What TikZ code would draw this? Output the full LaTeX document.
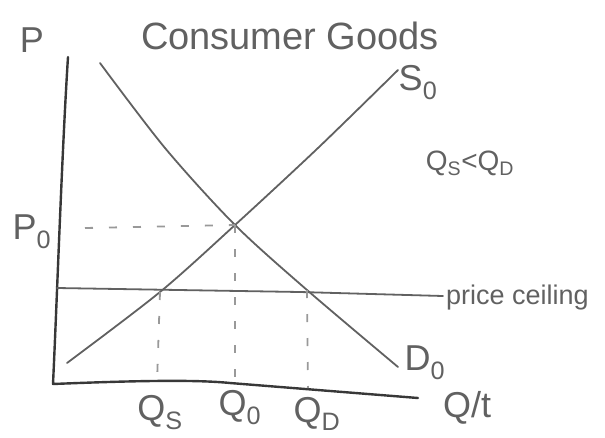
\documentclass[tikz,border=0pt]{standalone}
\usepackage{fontspec}
\setmainfont{Liberation Sans}
\begin{document}
\begin{tikzpicture}[x=1pt,y=-1pt,
  ink/.style={draw=black!62,line width=1.8pt,line cap=round,line join=round},
  axisline/.style={draw=black!78,line width=2.4pt,line cap=round,line join=round},
  guide/.style={draw=black!40,line width=1.8pt,dash pattern=on 8pt off 16pt},
  lab/.style={text=black!62,inner sep=0pt,anchor=center},
  big/.style={lab,font=\fontsize{36}{40}\selectfont},
  mid/.style={lab,font=\fontsize{28}{32}\selectfont},
  small/.style={lab,font=\fontsize{27}{30}\selectfont}]
\useasboundingbox (0,0) rectangle (605,437);
% axes
\coordinate (ytop) at (68,57);
\coordinate (orig) at (53,384);
\coordinate (xmid) at (230,383);
\coordinate (xend) at (418,398);
\draw[axisline] (ytop) .. controls (62,150) and (57,300) .. (orig) .. controls (150,380) and (200,380) .. (xmid) -- (xend);
% price ceiling
\coordinate (pc0) at (57,288);
\coordinate (pc1) at (300,292);
\coordinate (pc2) at (443,296);
\draw[ink] (pc0) -- (pc1) -- (pc2);
% supply
\coordinate (s1) at (67,363);
\coordinate (s2) at (160,292);
\coordinate (e) at (235,225);
\coordinate (s4) at (318,148);
\coordinate (s5) at (398,70);
\draw[ink] plot[smooth,tension=0.5] coordinates {(s1) (s2) (e) (s4) (s5)};
% demand
\coordinate (d1) at (100,63);
\coordinate (d2) at (165,148);
\coordinate (d4) at (307,290);
\coordinate (d5) at (398,367);
\draw[ink] plot[smooth,tension=0.5] coordinates {(d1) (d2) (e) (d4) (d5)};
% guides
\coordinate (p0l) at (85,228);
\coordinate (qsb) at (157,383);
\coordinate (qob) at (235,381);
\coordinate (qdb) at (308,388);
\draw[guide] (p0l) -- (e);
\draw[guide] (s2) -- (qsb);
\draw[guide] (e) -- (qob);
\draw[guide] (d4) -- (qdb);
% labels
\node[big] (P) at (32,40) {P};
\node[lab,font=\fontsize{38}{42}\selectfont] (title) at (290,36) {Consumer Goods};
\node[big] (S0) at (418,83) {S\textsubscript{0}};
\node[mid] (ineq) at (470,163) {Q\textsubscript{S}<Q\textsubscript{D}};
\node[big] (P0) at (32,232) {P\textsubscript{0}};
\node[small,anchor=west] (pcl) at (446,298) {price ceiling};
\node[big] (D0) at (425,363) {D\textsubscript{0}};
\node[big] (QS) at (160,413) {Q\textsubscript{S}};
\node[big] (Q0) at (240,408) {Q\textsubscript{0}};
\node[big] (QD) at (317,414) {Q\textsubscript{D}};
\node[big] (Qt) at (467,408) {Q/t};
\end{tikzpicture}
\end{document}
